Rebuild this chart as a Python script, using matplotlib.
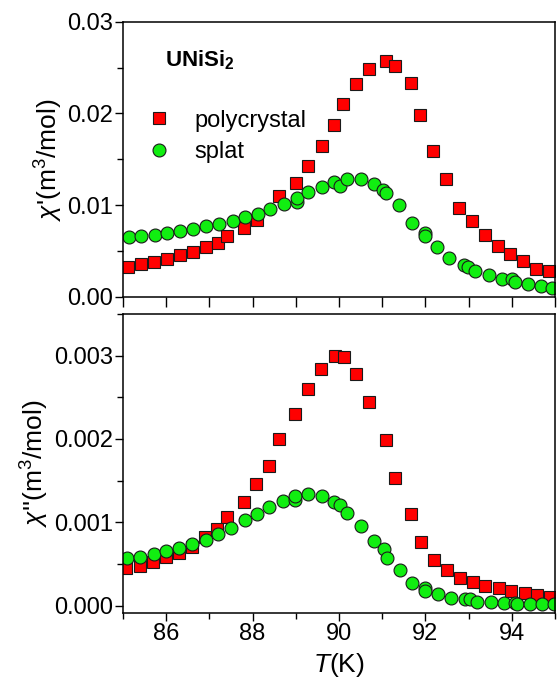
import matplotlib
matplotlib.use('Agg')
import matplotlib.pyplot as plt
from matplotlib.ticker import MultipleLocator, FormatStrFormatter

plt.rcParams['font.family'] = ['Liberation Sans', 'DejaVu Sans']
plt.rcParams['mathtext.fontset'] = 'custom'
plt.rcParams['mathtext.rm'] = 'Liberation Sans'
plt.rcParams['mathtext.it'] = 'Liberation Sans:italic'
plt.rcParams['mathtext.bf'] = 'Liberation Sans:bold'

# chi' (real part) - polycrystal
t_poly_re = [85.12, 85.42, 85.72, 86.03, 86.33, 86.61, 86.92, 87.21, 87.41, 87.80,
             88.11, 88.60, 89.00, 89.29, 89.60, 89.88, 90.09, 90.39, 90.70, 91.09,
             91.30, 91.66, 91.88, 92.18, 92.48, 92.78, 93.07, 93.37, 93.67, 93.97,
             94.27, 94.57, 94.87]
chi_poly_re = [0.0033, 0.0036, 0.0038, 0.0041, 0.00455, 0.0049, 0.0054, 0.0059, 0.00665, 0.0075,
               0.0084, 0.0110, 0.0124, 0.0143, 0.0164, 0.0187, 0.0210, 0.0232, 0.0248, 0.0257,
               0.0252, 0.0233, 0.0198, 0.0159, 0.0128, 0.0097, 0.0083, 0.0068, 0.0056, 0.0047,
               0.0039, 0.0031, 0.0028]

# chi' (real part) - splat
t_splat_re = [85.14, 85.42, 85.74, 86.03, 86.32, 86.61, 86.93, 87.22, 87.54, 87.82,
              88.12, 88.40, 88.73, 89.02, 89.02, 89.29, 89.61, 89.89, 90.02, 90.19,
              90.50, 90.81, 91.03, 91.08, 91.40, 91.68, 91.99, 91.99, 92.28, 92.55,
              92.90, 92.99, 93.16, 93.47, 93.78, 94.01, 94.07, 94.38, 94.68, 94.94]
chi_splat_re = [0.0065, 0.00665, 0.0068, 0.0070, 0.00723, 0.00745, 0.00774, 0.0080, 0.00826, 0.0087,
                0.00905, 0.0096, 0.0101, 0.0104, 0.0108, 0.0114, 0.0120, 0.01254, 0.0121, 0.0128,
                0.01284, 0.0123, 0.01167, 0.0113, 0.0100, 0.0081, 0.00695, 0.0066, 0.0055, 0.0042,
                0.0035, 0.0033, 0.0028, 0.00237, 0.0020, 0.00193, 0.00164, 0.00142, 0.0012, 0.00098]

# chi'' (imaginary part) - polycrystal
t_poly_im = [85.08, 85.39, 85.69, 86.00, 86.29, 86.59, 86.89, 87.18, 87.40, 87.80,
             88.09, 88.38, 88.60, 88.98, 89.28, 89.59, 89.90, 90.11, 90.39, 90.70,
             91.09, 91.30, 91.66, 91.89, 92.20, 92.49, 92.80, 93.10, 93.39, 93.70,
             93.99, 94.30, 94.59, 94.89]
chi_poly_im = [0.000446, 0.000474, 0.000518, 0.000578, 0.000633, 0.000705, 0.000818, 0.000925, 0.00106, 0.00124,
               0.00146, 0.00168, 0.0020, 0.0023, 0.0026, 0.00284, 0.0030, 0.00299, 0.00278, 0.00244,
               0.00199, 0.00153, 0.0011, 0.00076, 0.000546, 0.000426, 0.000326, 0.000278, 0.000234, 0.000206,
               0.000178, 0.000154, 0.000126, 0.000106]

# chi'' (imaginary part) - splat
t_splat_im = [85.10, 85.39, 85.71, 86.00, 86.29, 86.59, 86.92, 87.19, 87.51, 87.82,
              88.10, 88.39, 88.70, 88.99, 88.99, 89.28, 89.61, 89.89, 90.03, 90.19,
              90.51, 90.82, 91.04, 91.10, 91.41, 91.68, 92.00, 92.00, 92.30, 92.59,
              92.91, 93.03, 93.20, 93.51, 93.82, 94.07, 94.13, 94.42, 94.71, 94.98]
chi_splat_im = [0.000566, 0.000585, 0.000614, 0.000653, 0.000693, 0.000737, 0.000793, 0.000857, 0.000937, 0.001025,
                0.001105, 0.001185, 0.00125, 0.00127, 0.00132, 0.00134, 0.00131, 0.00124, 0.00121, 0.00111,
                0.00096, 0.00077, 0.00068, 0.00057, 0.000426, 0.000266, 0.000206, 0.000178, 0.000138, 0.00009,
                0.000074, 0.00008, 0.000046, 0.000042, 0.000026, 0.000026, 0.000022, 0.000022, 0.000018, 0.000018]

red = '#ff0000'
green = '#11ee11'
edge = '#1a1a1a'

fig = plt.figure(figsize=(5.58, 6.84), dpi=100)
ax1 = fig.add_axes([0.2204, 0.5658, 0.7742, 0.4026])
ax2 = fig.add_axes([0.2204, 0.1033, 0.7742, 0.4376])

sq = dict(marker='s', linestyle='none', markersize=8.5, markerfacecolor=red,
          markeredgecolor=edge, markeredgewidth=0.8)
ci = dict(marker='o', linestyle='none', markersize=9.3, markerfacecolor=green,
          markeredgecolor=edge, markeredgewidth=0.8)

ax1.plot(t_poly_re, chi_poly_re, label='polycrystal', **sq)
ax1.plot(t_splat_re, chi_splat_re, label='splat', **ci)
ax2.plot(t_poly_im, chi_poly_im, **sq)
ax2.plot(t_splat_im, chi_splat_im, **ci)

for ax in (ax1, ax2):
    ax.set_xlim(85, 95)
    for s in ax.spines.values():
        s.set_linewidth(1.1)
    ax.tick_params(which='both', direction='out', width=1.0, labelsize=17, pad=1)
    ax.tick_params(which='major', length=6)
    ax.tick_params(which='minor', length=4)

# top panel
ax1.set_ylim(0, 0.03)
ax1.xaxis.set_major_locator(MultipleLocator(1))
ax1.tick_params(axis='x', which='major', length=7, labelbottom=False)
ax1.yaxis.set_major_locator(MultipleLocator(0.01))
ax1.yaxis.set_minor_locator(MultipleLocator(0.005))
ax1.yaxis.set_major_formatter(FormatStrFormatter('%.2f'))
ax1.set_ylabel(r"$\mathit{\chi}$'(m$^3$/mol)", fontsize=19, labelpad=2)
ax1.text(0.097, 0.836, r'$\mathbf{UNiSi_2}$', transform=ax1.transAxes, fontsize=16)
ax1.legend(loc='upper left', bbox_to_anchor=(0.055, 0.68), frameon=False, fontsize=17,
           handlelength=1.0, handletextpad=1.0, labelspacing=0.4, borderpad=0, borderaxespad=0)

# bottom panel
ax2.set_ylim(-0.0000935, 0.0035)
ax2.xaxis.set_major_locator(MultipleLocator(2))
ax2.xaxis.set_minor_locator(MultipleLocator(1))
ax2.yaxis.set_major_locator(MultipleLocator(0.001))
ax2.yaxis.set_minor_locator(MultipleLocator(0.0005))
ax2.yaxis.set_major_formatter(FormatStrFormatter('%.3f'))
ax2.set_ylabel(r"$\mathit{\chi}$''(m$^3$/mol)", fontsize=19, labelpad=2)
ax2.set_xlabel(r'$\mathit{T}$(K)', fontsize=19, labelpad=4)

fig.savefig('out.png', dpi=100)
